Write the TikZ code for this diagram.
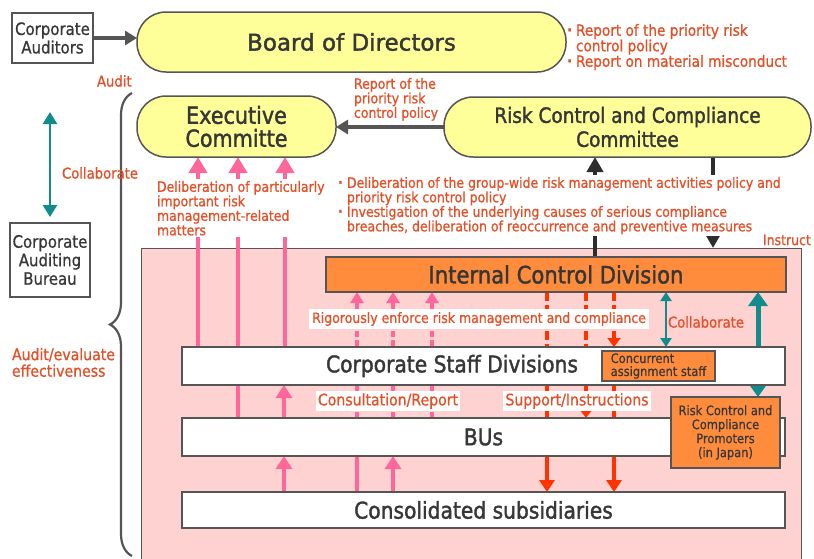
\documentclass[tikz,border=0pt]{standalone}
\usepackage{fontspec}
\setmainfont{DejaVu Sans}
\newfontfamily\nar[FakeStretch=0.88,FakeBold=0.5]{DejaVu Sans}
\newfontfamily\narb[FakeStretch=0.88,FakeBold=1.6]{DejaVu Sans}
\newfontfamily\wideb[FakeBold=1.6]{DejaVu Sans}
\newfontfamily\narm[FakeStretch=0.88,FakeBold=0.8]{DejaVu Sans}
\usetikzlibrary{arrows.meta,decorations.pathreplacing}
\definecolor{yel}{RGB}{255,255,153}
\definecolor{pinkbg}{RGB}{255,210,210}
\definecolor{hot}{RGB}{255,102,153}
\definecolor{redd}{RGB}{255,51,0}
\definecolor{txtred}{RGB}{228,80,40}
\definecolor{tealc}{RGB}{16,140,140}
\definecolor{orng}{RGB}{255,140,60}
\definecolor{edge}{RGB}{85,85,85}
\definecolor{ink}{RGB}{55,55,55}
\definecolor{blk}{RGB}{45,45,45}
\newcommand\rbul{\makebox[9pt][l]{\raisebox{0.5pt}{\textbf{·}}}}
\newcommand\rind{\hspace*{9pt}}
\pgfdeclarelayer{bg}
\pgfdeclarelayer{lines}
\pgfsetlayers{bg,lines,main}
\begin{document}
\begin{tikzpicture}[x=1pt,y=-1pt,
  every node/.style={inner sep=0pt,outer sep=0pt},
  ybox/.style={draw=edge,line width=1.5pt,fill=yel,rounded corners=29pt,text=ink,align=center},
  gbox/.style={draw=edge,line width=1.2pt,fill=white,align=center,text=ink,font=\narm\fontsize{17}{18.5}\selectfont},
  wbox/.style={draw=edge,line width=1.2pt,fill=white,minimum width=603pt,minimum height=38pt,text=ink,font=\narb\fontsize{23}{25}\selectfont},
  obox/.style={draw=edge,line width=1.2pt,fill=orng,text=ink},
  zonebox/.style={draw=edge,line width=1pt,fill=pinkbg,anchor=north west,minimum width=660pt,minimum height=330pt},
  rtext/.style={text=txtred,align=left,font=\narm\fontsize{14.2}{14.5}\selectfont},
  garrow/.style={edge,line width=4pt,-{Triangle[width=14pt,length=12pt]}},
  barrow/.style={blk,line width=4pt,-{Triangle[width=16pt,length=15pt]}},
  tarrow/.style={tealc,line width=2.5pt,{Triangle[width=14pt,length=12pt]}-{Triangle[width=14pt,length=12pt]}},
  tsmall/.style={tealc,line width=2.5pt,{Triangle[width=11pt,length=9pt]}-{Triangle[width=11pt,length=9pt]}},
  tbig/.style={tealc,line width=5pt,{Triangle[width=19pt,length=14pt]}-{Triangle[width=19pt,length=14pt]}},
  pk/.style={hot,line width=4.5pt},
  pkexec/.style={pk,-{Triangle[width=18pt,length=16pt]}},
  pkarrow/.style={pk,-{Triangle[width=16pt,length=13pt]}},
  pkicd/.style={hot,line width=4pt,-{Triangle[width=13pt,length=11pt]}},
  pkdash/.style={hot,line width=4pt,dash pattern=on 6pt off 3pt},
  rddash/.style={redd,line width=3.5pt,dash pattern=on 9pt off 4pt},
  rtip/.style={-{Triangle[width=13pt,length=9pt]}},
  rdarrow/.style={redd,line width=3.5pt,-{Triangle[width=15pt,length=12pt]}},
  bracestyle/.style={edge,line width=2.2pt,decorate,decoration={brace,amplitude=22pt}}
]
\useasboundingbox (0,0) rectangle (814,558);
\begin{pgfonlayer}{bg}
  \fill[white] (0,0) rectangle (814,558);
  \node[zonebox] (zone) at (141,248) {};
\end{pgfonlayer}

% x positions
\coordinate (p198) at (198,0);
\coordinate (p238) at (238,0);
\coordinate (p284) at (284,0);
\coordinate (p285) at (285,0);
\coordinate (p357) at (357,0);
\coordinate (p393) at (393,0);
\coordinate (p432) at (432,0);
\coordinate (p547) at (547,0);
\coordinate (p586) at (586,0);
\coordinate (p614) at (614,0);
\coordinate (p595) at (595,0);
\coordinate (p713) at (713,0);
\coordinate (p666) at (666,0);
\coordinate (p758) at (758,0);
\coordinate (colltop) at (50,112);
\coordinate (brtop) at (132,93);
\coordinate (brbot) at (132,556);

% boxes
\node[gbox,minimum width=81pt,minimum height=50pt] (aud) at (52.5,38) {Corporate\\Auditors};
\node[ybox,minimum width=429pt,minimum height=60pt,font=\wideb\fontsize{23}{24}\selectfont] (board) at (351.5,42) {Board of Directors};
\node[ybox,minimum width=199pt,minimum height=61pt,font=\narb\fontsize{23.5}{23}\selectfont] (exec) at (236.5,126.5) {Executive\\Committe};
\node[ybox,minimum width=367pt,minimum height=60pt,font=\narb\fontsize{21}{24}\selectfont] (rccc) at (627.5,127) {Risk Control and Compliance\\Committee};
\node[gbox,minimum width=80pt,minimum height=74pt] (bureau) at (50,260) {Corporate\\Auditing\\Bureau};
\node[obox,line width=1.5pt,minimum width=460pt,minimum height=35pt,font=\narb\fontsize{24}{26}\selectfont] (icd) at (556,274.5) {Internal Control Division};
\node[wbox] (staff) at (483.5,366) {};
\node[text=ink,font=\narb\fontsize{23}{25}\selectfont] (stafft) at (452,366) {Corporate Staff Divisions};
\node[obox,minimum width=113pt,minimum height=30pt,align=left,font=\nar\fontsize{13}{13}\selectfont] (conc) at (658.5,366) {Concurrent\\assignment staff};
\node[wbox] (bus) at (483.5,437) {BUs};
\node[obox,minimum width=109pt,minimum height=71pt,align=center,font=\nar\fontsize{13}{14}\selectfont] (rccp) at (725.5,432.5) {Risk Control and\\Compliance\\Promoters\\(in Japan)};
\node[wbox,minimum height=36pt] (subs) at (483.5,510) {Consolidated subsidiaries};

% labels
\node[rtext,anchor=north west,font=\narm\fontsize{15.5}{15.5}\selectfont] (bnote) at (567,24) {\rbul Report of the priority risk\\\rind control policy\\\rbul Report on material misconduct};
\node[rtext,anchor=west,font=\narm\fontsize{15}{15}\selectfont] (audit) at (97,81) {Audit};
\node[rtext,anchor=north west] (rnote) at (354,78) {Report of the\\priority risk\\control policy};
\node[rtext,font=\narm\fontsize{15}{15}\selectfont] (coll1) at (100,173) {Collaborate};
\node[rtext,anchor=north west,font=\narm\fontsize{16}{16.5}\selectfont] (aeval) at (12,348) {Audit/evaluate\\effectiveness};
\node[rtext,fill=white,inner sep=2pt,anchor=north west] (delib1) at (155,179) {Deliberation of particularly\\important risk\\management-related\\matters};
\node[rtext,fill=white,inner sep=2pt,anchor=north west] (delib2) at (336,175) {\rbul Deliberation of the group-wide risk management activities policy and\\\rind priority risk control policy\\\rbul Investigation of the underlying causes of serious compliance\\\rind breaches, deliberation of reoccurrence and preventive measures};
\node[rtext,anchor=west] (instr) at (763,240) {Instruct};
\node[rtext,fill=white,inner sep=3pt] (rig) at (479,319) {Rigorously enforce risk management and compliance};
\node[rtext,anchor=west,font=\narm\fontsize{15}{15}\selectfont] (coll2) at (668,322) {Collaborate};
\node[rtext,fill=white,inner sep=2pt,font=\narm\fontsize{16}{16}\selectfont] (cons) at (388,401) {Consultation/Report};
\node[rtext,fill=white,inner sep=2pt,font=\narm\fontsize{16}{16}\selectfont] (supp) at (577,401) {Support/Instructions};

\begin{pgfonlayer}{lines}
  \draw[garrow] (aud.east) -- (aud.east -| board.west);
  \draw[garrow] (rccc.west) -- (rccc.west -| exec.east);
  \draw[tarrow] (colltop) -- ([yshift=6pt]bureau.north);
  \draw[bracestyle] (brbot) -- (brtop);
  \draw[barrow] (icd.north -| p595) -- (rccc.south -| p595);
  \draw[barrow] (rccc.south -| p713) -- (zone.north -| p713);
  % pink
  \draw[pkexec] (staff.north -| p198) -- (exec.south -| p198);
  \draw[pkexec] (bus.north -| p238) -- (exec.south -| p238);
  \draw[pkexec] (staff.north -| p285) -- (exec.south -| p285);
  \draw[pkarrow] (bus.north -| p284) -- (staff.south -| p284);
  \draw[pkarrow] (subs.north -| p284) -- (bus.south -| p284);
  \draw[pk] (subs.north -| p357) -- (bus.south -| p357);
  \draw[pkarrow] (subs.north -| p393) -- (bus.south -| p393);
  \foreach \p in {p357,p393,p432} {
    \draw[pkdash] (bus.north -| \p) -- (rig.south -| \p);
    \draw[pkicd] (rig.north -| \p) -- (icd.south -| \p);
  }
  % red
  \draw[rddash] (icd.south -| p547) -- (bus.south -| p547);
  \draw[rdarrow] (bus.south -| p547) -- (subs.north -| p547);
  \draw[rddash,rtip] (icd.south -| p586) -- (bus.north -| p586);
  \draw[rddash,rtip] (icd.south -| p614) -- (staff.north -| p614);
  \draw[rddash] (staff.south -| p614) -- (bus.north -| p614);
  \draw[rdarrow] (bus.south -| p614) -- (subs.north -| p614);
  % teal
  \draw[tsmall] (icd.south -| p666) -- (staff.north -| p666);
  \draw[tbig] (icd.south -| p758) -- (rccp.north -| p758);
\end{pgfonlayer}
\end{tikzpicture}
\end{document}
